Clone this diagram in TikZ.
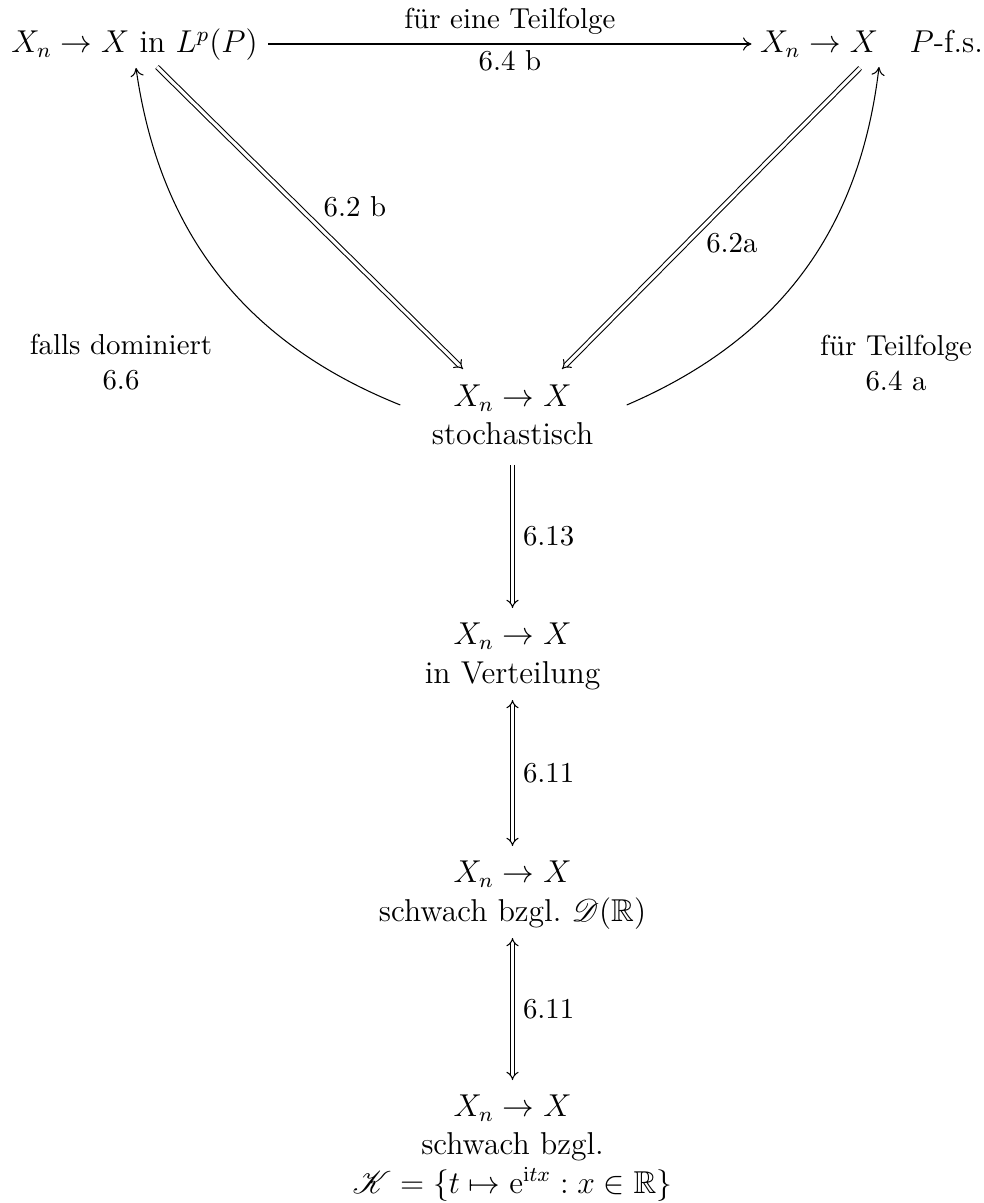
\documentclass[12pt,tikz,border=0pt]{standalone}
\usepackage{amssymb}
\usepackage{mathrsfs}
\usetikzlibrary{arrows.meta,calc}
\tikzset{
  state/.style={inner sep=0pt, anchor=base, align=center},
  note/.style={inner sep=0pt, anchor=base, align=center, font=\small},
  elab/.style={inner sep=0pt, font=\small},
  single/.style={-{To[length=3.2pt,width=5pt]}},
  impl/.style={double, double distance=1.2pt, -{Implies}},
  equiv/.style={double, double distance=1.2pt, {Implies}-{Implies}},
}
\begin{document}
\begin{tikzpicture}[x=0.3795pt, y=-0.3795pt]
\useasboundingbox (0,0) rectangle (983,1203);

% convergence notions (base = baseline of the last line)
\node[state] (A) at (134.5,53) {$X_n \to X$ in $L^p(P)$};
\node[state] (B) at (871.5,53) {$X_n \to X$\quad $P$-f.s.};
\node[state] (C) at (512.5,445) {$X_n \to X$\\stochastisch};
\node[state] (D) at (512.5,683) {$X_n \to X$\\in Verteilung};
\node[state] (E) at (512.5,921) {$X_n \to X$\\schwach bzgl.\ $\mathscr{D}(\mathbb{R})$};
\node[state] (F) at (512.5,1193) {$X_n \to X$\\schwach bzgl.\\$\mathscr{K}=\{t\mapsto \mathrm{e}^{\mathrm{i}tx} : x\in\mathbb{R}\}$};

% side remarks
\node[note] (L) at (121,390) {falls dominiert\\6.6};
\node[note] (R) at (896,391) {f\"ur Teilfolge\\6.4 a};

% top arrow
\draw[single] ($(A.base east)+(10,-9)$) -- ($(B.base west)+(-8,-9)$)
  node[elab, midway, above=3.5pt] {f\"ur eine Teilfolge}
  node[elab, midway, below=2.2pt] {6.4 b};

% diagonal implications
\draw[impl] ($(A.base)+(22.5,14)$) -- ($(C.base)+(-49.5,-76)$)
  node[elab, midway, anchor=south west, shift={(5pt,0pt)}] {6.2 b};
\draw[impl] ($(B.base)+(-11.5,15)$) -- ($(C.base)+(49.5,-76)$)
  node[elab, midway, anchor=north west, shift={(-2pt,-5.5pt)}] {6.2a};

% curved arrows back to the top row
\draw[single] ($(C.base west)+(-31,-40)$) to[bend left=30] ($(A.base)+(1.5,15)$);
\draw[single] ($(C.base east)+(33,-40)$) to[bend right=30] ($(B.base)+(7.5,14)$);

% vertical chain
\draw[impl] ($(C.base)+(0,20)$) -- ($(D.base)+(0,-75)$)
  node[elab, midway, anchor=west, xshift=3.8pt] {6.13};
\draw[equiv] ($(D.base)+(0,17)$) -- ($(E.base)+(0,-75)$)
  node[elab, midway, anchor=west, xshift=3.8pt] {6.11};
\draw[equiv] ($(E.base)+(0,17)$) -- ($(F.base)+(0,-113)$)
  node[elab, midway, anchor=west, xshift=3.8pt] {6.11};
\end{tikzpicture}
\end{document}
